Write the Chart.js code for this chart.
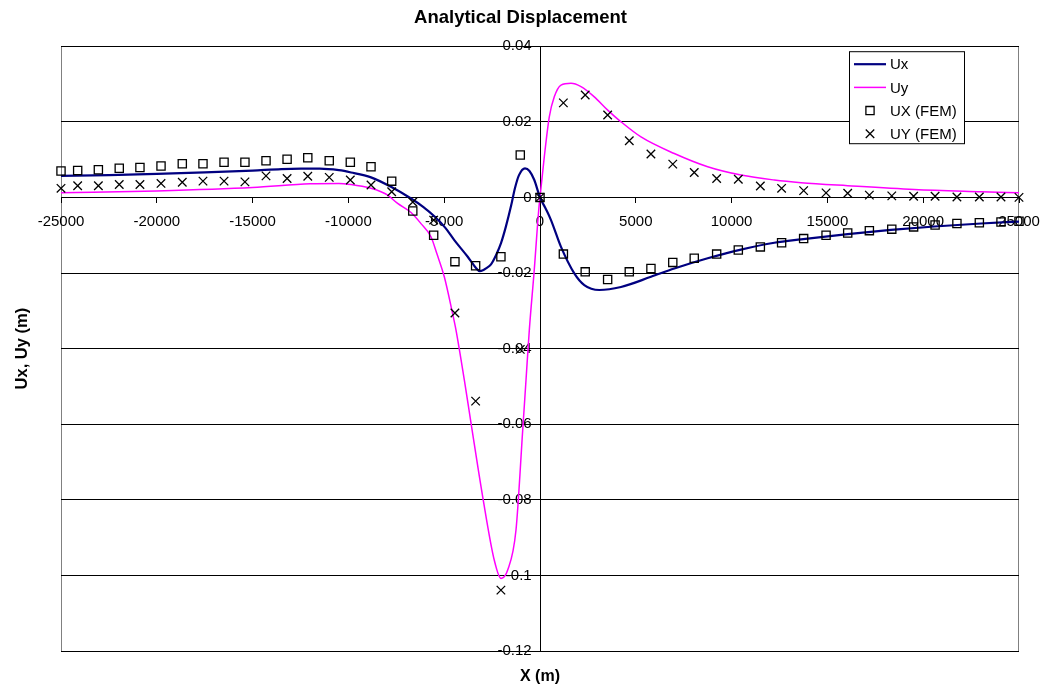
<!DOCTYPE html>
<html>
<head>
<meta charset="utf-8">
<title>Analytical Displacement</title>
<script src="https://cdn.jsdelivr.net/npm/chart.js@4.4.1/dist/chart.umd.min.js"></script>
<style>
  html, body { margin: 0; padding: 0; background: #fff; }
  #wrap { width: 1041px; height: 687px; position: relative; }
</style>
</head>
<body>
<div id="wrap"><canvas id="myChart"></canvas></div>
<script>
// analytical curves
const uxCurveX = [-25000, -22500, -20000, -17500, -15000, -13500, -12470, -11500, -10500, -9860, -8820, -7776,
  -6730, -6100, -5516, -4950, -4473, -3773, -3500, -3350, -3150, -2950, -2818, -2557, -2296, -2035, -1774, -1513,
  -1305, -1096, -783, -550, -297, 0, 300, 574, 1096, 1790, 2312, 3095, 4227, 5793, 7009, 8752, 10490, 12229,
  13622, 16058, 18319, 20578, 23016, 25000];
const uxCurveY = [0.0057, 0.0059, 0.0062, 0.0066, 0.0071, 0.0075, 0.0076, 0.0076, 0.0072, 0.0066, 0.0053, 0.0028,
  -0.0003, -0.0025, -0.0050, -0.0080, -0.0113, -0.0157, -0.0176, -0.0186, -0.0195, -0.0192, -0.0188, -0.0177,
  -0.0153, -0.0121, -0.0076, -0.0023, 0.0025, 0.0059, 0.0077, 0.0070, 0.0046, 0.0000, -0.0030, -0.0060, -0.0131,
  -0.0201, -0.0232, -0.0245, -0.0237, -0.0210, -0.0188, -0.0161, -0.0138, -0.0120, -0.0111, -0.0097, -0.0086,
  -0.0077, -0.0069, -0.0064];

const uyCurveX = [-25000, -20000, -15000, -12000, -10500, -9860, -8820, -8300, -7950, -7430, -6730, -6200,
  -5690, -5375, -4995, -4593, -4384, -3950, -3600, -2990, -2385, -2035, -1686, -1253, -903, -730, -558, -300,
  -68, 0, 224, 485, 746, 1096, 1618, 2140, 2834, 3533, 4227, 5271, 7009, 8752, 10490, 12229, 13622, 16058,
  19535, 23016, 25000];
const uyCurveY = [0.0012, 0.0017, 0.0026, 0.0036, 0.0037, 0.0034, 0.0024, 0.0015, 0.0006, -0.0016, -0.0040, -0.0070,
  -0.0104, -0.0150, -0.0210, -0.0300, -0.0351, -0.0483, -0.0597, -0.0792, -0.0960, -0.1008, -0.0986, -0.0880,
  -0.0616, -0.0483, -0.0351, -0.0192, -0.0034, 0.0000, 0.0107, 0.0213, 0.0266, 0.0297, 0.0302, 0.0293, 0.0266,
  0.0231, 0.0200, 0.0160, 0.0116, 0.0081, 0.0059, 0.0046, 0.0039, 0.0031, 0.0021, 0.0015, 0.0012];

// FEM nodes
const femX = [-25000, -24130, -23050, -21960, -20880, -19780, -18670, -17590, -16490, -15400, -14300, -13200,
  -12120, -11000, -9900, -8820, -7740, -6640, -5550, -4440, -3360, -2040, -1030, 0,
  1220, 2360, 3530, 4660, 5790, 6930, 8050, 9220, 10350, 11500, 12610, 13760, 14930, 16060, 17190, 18360,
  19500, 20620, 21760, 22930, 24060, 25000];
const femUx = [0.0070, 0.0071, 0.0073, 0.0077, 0.0079, 0.0083, 0.0089, 0.0089, 0.0093, 0.0093, 0.0097, 0.0101,
  0.0105, 0.0097, 0.0093, 0.0081, 0.0043, -0.0036, -0.0100, -0.0170, -0.0181, -0.0157, 0.0112, 0.0000,
  -0.0150, -0.0197, -0.0217, -0.0197, -0.0188, -0.0172, -0.0161, -0.0150, -0.0139, -0.0131, -0.0120, -0.0109,
  -0.0100, -0.0094, -0.0088, -0.0084, -0.0078, -0.0073, -0.0069, -0.0067, -0.0065, -0.0063];
const femUy = [0.0024, 0.0031, 0.0031, 0.0034, 0.0034, 0.0037, 0.0040, 0.0043, 0.0043, 0.0041, 0.0057, 0.0050,
  0.0056, 0.0053, 0.0046, 0.0033, 0.0015, -0.0012, -0.0060, -0.0306, -0.0539, -0.1039, -0.0402, 0.0000,
  0.0250, 0.0271, 0.0218, 0.0150, 0.0115, 0.0088, 0.0066, 0.0050, 0.0048, 0.0030, 0.0024, 0.0018,
  0.0012, 0.0011, 0.0006, 0.0004, 0.0003, 0.0003, 0.0001, 0.0001, 0.0001, 0.0000];

const xTicks = [-25000, -20000, -15000, -10000, -5000, 0, 5000, 10000, 15000, 20000, 25000];
const yTicks = [0.04, 0.02, 0, -0.02, -0.04, -0.06, -0.08, -0.1, -0.12];

const seriesNames = ['Ux', 'Uy', 'UX (FEM)', 'UY (FEM)'];

const FONT = "'Liberation Sans', Arial, sans-serif";

function pts(xs, ys) {
  return xs.map((x, i) => ({ x: x, y: ys[i] }));
}

// grey frame round the plot area (top/bottom get covered by black gridlines)
const frame = {
  id: 'frame',
  beforeDraw(chart) {
    const a = chart.chartArea, c = chart.ctx;
    c.save();
    c.strokeStyle = '#808080';
    c.lineWidth = 1;
    c.strokeRect(Math.round(a.left) + 0.5, Math.round(a.top) + 0.5,
      Math.round(a.right - a.left) - 1, Math.round(a.bottom - a.top));
    c.restore();
  }
};

// boxed legend in the top right of the plot
const boxLegend = {
  id: 'boxLegend',
  afterDraw(chart) {
    const a = chart.chartArea, c = chart.ctx;
    const left = a.right - 170, top = a.top + 5, w = 115, h = 92;
    c.save();
    c.fillStyle = '#fff';
    c.fillRect(left, top, w, h);
    c.strokeStyle = '#000';
    c.lineWidth = 1;
    c.strokeRect(left + 0.5, top + 0.5, w, h);
    c.font = '15px ' + FONT;
    c.textBaseline = 'middle';
    chart.data.datasets.forEach((ds, i) => {
      const y = top + 13 + i * 23.2;
      if (ds.showLine) {
        c.strokeStyle = ds.borderColor;
        c.lineWidth = ds.borderWidth;
        c.beginPath();
        c.moveTo(left + 5, y);
        c.lineTo(left + 37, y);
        c.stroke();
      } else {
        c.fillStyle = 'rgba(0,0,0,0)';
        c.strokeStyle = '#000';
        c.lineWidth = 1.3;
        Chart.helpers.drawPoint(c, {
          pointStyle: ds.pointStyle, radius: ds.pointRadius, borderWidth: 1.3
        }, left + 21, y);
      }
      c.fillStyle = '#000';
      c.fillText(ds.label, left + 41, y + 1);
    });
    c.restore();
  }
};

new Chart(document.getElementById('myChart'), {
  type: 'scatter',
  data: {
    datasets: [
      {
        label: seriesNames[0],
        data: pts(uxCurveX, uxCurveY),
        showLine: true,
        borderColor: '#000080',
        borderWidth: 2.2,
        pointRadius: 0,
        cubicInterpolationMode: 'monotone',
        order: 2
      },
      {
        label: seriesNames[1],
        data: pts(uyCurveX, uyCurveY),
        showLine: true,
        borderColor: '#ff00ff',
        borderWidth: 1.5,
        pointRadius: 0,
        cubicInterpolationMode: 'monotone',
        order: 3
      },
      {
        label: seriesNames[2],
        data: pts(femX, femUx),
        showLine: false,
        pointStyle: 'rect',
        pointRadius: 5.8,
        pointBorderWidth: 1.3,
        borderColor: '#000',
        pointBorderColor: '#000',
        pointBackgroundColor: 'rgba(0,0,0,0)',
        clip: false,
        order: 1
      },
      {
        label: seriesNames[3],
        data: pts(femX, femUy),
        showLine: false,
        pointStyle: 'crossRot',
        pointRadius: 6,
        pointBorderWidth: 1.3,
        borderColor: '#000',
        pointBorderColor: '#000',
        clip: false,
        order: 0
      }
    ]
  },
  options: {
    responsive: true,
    maintainAspectRatio: false,
    animation: false,
    events: [],
    layout: { padding: 0 },
    plugins: {
      legend: { display: false },
      tooltip: { enabled: false },
      title: {
        display: true,
        text: 'Analytical Displacement',
        color: '#000',
        font: { family: FONT, size: 18.5, weight: 'bold' },
        padding: { top: 7, bottom: 17 }
      }
    },
    scales: {
      x: {
        type: 'linear',
        min: -25000,
        max: 25000,
        position: { y: 0 },
        afterBuildTicks: s => { s.ticks = xTicks.map(v => ({ value: v })); },
        afterFit: s => { s.height = 0; s.paddingLeft = 0; s.paddingRight = 0; },
        ticks: {
          color: '#000',
          font: { family: FONT, size: 15 },
          padding: 10,
          maxRotation: 0,
          autoSkip: false,
          callback: v => String(v)
        },
        grid: { drawOnChartArea: false, drawTicks: true, tickLength: 5, color: '#000', lineWidth: 1 },
        border: { display: true, color: '#000', width: 1 }
      },
      y: {
        type: 'linear',
        min: -0.12,
        max: 0.04,
        position: { x: 0 },
        afterBuildTicks: s => { s.ticks = yTicks.map(v => ({ value: v })); },
        afterFit: s => { s.width = 0; s.paddingTop = 0; s.paddingBottom = 0; },
        ticks: {
          color: '#000',
          font: { family: FONT, size: 15 },
          autoSkip: false,
          // two trailing spaces keep the right-aligned label off the axis line
          callback: v => String(Math.round(v * 100) / 100) + '  '
        },
        grid: { drawOnChartArea: true, drawTicks: true, tickLength: 5, color: '#000', lineWidth: 1 },
        border: { display: true, color: '#000', width: 1 }
      },
      xTitle: {
        type: 'linear',
        position: 'bottom',
        min: -25000,
        max: 25000,
        ticks: { display: false },
        grid: { display: false, drawTicks: false, tickLength: 0 },
        border: { display: false },
        title: {
          display: true,
          text: 'X (m)',
          color: '#000',
          font: { family: FONT, size: 16, weight: 'bold' },
          padding: { top: 16.4, bottom: 0.4 }
        }
      },
      yTitle: {
        type: 'linear',
        position: 'left',
        min: -0.12,
        max: 0.04,
        ticks: { display: false },
        grid: { display: false, drawTicks: false, tickLength: 0 },
        border: { display: false },
        title: {
          display: true,
          text: 'Ux, Uy (m)',
          color: '#000',
          font: { family: FONT, size: 16.5, weight: 'bold' },
          padding: { top: 12.1, bottom: 29.1 }
        }
      },
      rightGap: {
        type: 'linear',
        position: 'right',
        min: 0,
        max: 1,
        ticks: { display: false },
        grid: { display: false, drawTicks: false, tickLength: 0 },
        border: { display: false },
        afterFit: s => { s.width = 22; }
      }
    }
  },
  plugins: [frame, boxLegend]
});
</script>
</body>
</html>
